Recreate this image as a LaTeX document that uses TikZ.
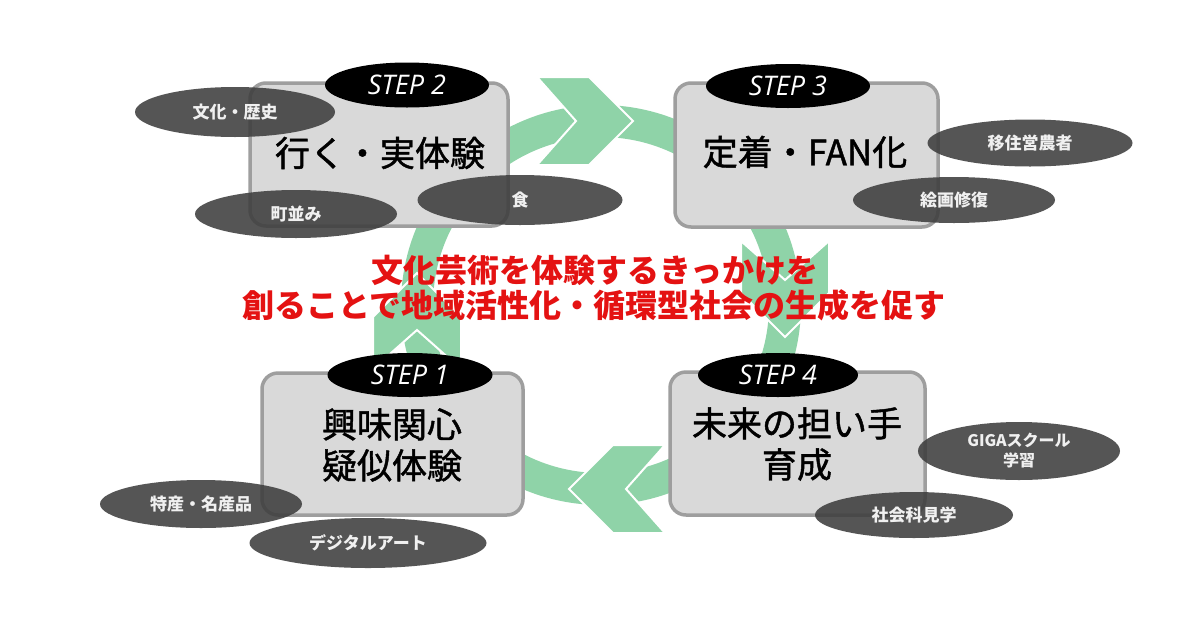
\documentclass[tikz,border=0pt]{standalone}
\usepackage{fontspec}
\setmainfont{Open Sans}
\newfontfamily\jp{Noto Sans CJK JP}
\newfontfamily\jpm[FakeBold=1.3]{Noto Sans CJK JP}
\usetikzlibrary{shapes.geometric}
\definecolor{ringgreen}{RGB}{143,211,168}
\definecolor{boxfill}{RGB}{217,217,217}
\definecolor{boxline}{RGB}{158,158,158}
\definecolor{pill}{RGB}{62,62,62}
\definecolor{redtext}{RGB}{228,18,18}
\tikzset{
  chev/.style={fill=ringgreen, draw=white, line width=2pt, line join=miter},
  stepbox/.style={draw=boxline, fill=boxfill, line width=3.5pt, rounded corners=16pt, inner sep=0pt},
  steplabel/.style={ellipse, fill=black, inner sep=0pt, text=white, font=\itshape\fontsize{27}{29}\selectfont},
  maintext/.style={align=center, text=black, font=\jpm\fontsize{35}{41}\selectfont},
  pillnode/.style={ellipse, fill=pill, fill opacity=0.88, text opacity=1, inner sep=0pt, text=white!94!black, align=center, font=\jp\bfseries\fontsize{17}{21}\selectfont},
  redline/.style={text=redtext, font=\jp\bfseries\fontsize{32}{36}\selectfont}
}
\begin{document}
\begin{tikzpicture}[x=1pt,y=-1pt]
\useasboundingbox (0,0) rectangle (1200,619);
\fill[white] (0,0) rectangle (1200,619);
% green cycle ring
\draw[ringgreen, line width=32pt] (601,305) circle (184pt);
\foreach \a in {0,-90,-180,-270}
  \filldraw[chev, rotate around={\a:(601,305)}] (537,77) -- (589,77) -- (633,121) -- (589,165) -- (537,165) -- (576,121) -- cycle;
% step boxes
\node[stepbox, minimum width=258pt, minimum height=143pt] (box2) at (379,154.5) {};
\node[stepbox, minimum width=263pt, minimum height=144pt] (box3) at (806.5,155) {};
\node[stepbox, minimum width=261pt, minimum height=142pt] (box1) at (392.5,444) {};
\node[stepbox, minimum width=255pt, minimum height=143pt] (box4) at (797.5,443.5) {};
% step labels
\node[steplabel, minimum width=164pt, minimum height=45pt] (lab2) at (407,85) {STEP 2};
\node[steplabel, minimum width=164pt, minimum height=44pt] (lab3) at (788,86) {STEP 3};
\node[steplabel, minimum width=165pt, minimum height=44pt] (lab1) at (410,375) {STEP 1};
\node[steplabel, minimum width=160pt, minimum height=44pt] (lab4) at (778,375) {STEP 4};
% main texts
\node[maintext] (t2) at (380,153) {行く・実体験};
\node[maintext] (t3) at (805,152) {定着・FAN化};
\node[maintext] (t1) at (392,445) {興味関心\\疑似体験};
\node[maintext] (t4) at (797,444) {未来の担い手\\育成};
% item pills
\node[pillnode, minimum width=200pt, minimum height=50pt] (p21) at (235,112) {文化・歴史};
\node[pillnode, minimum width=202pt, minimum height=48pt] (p22) at (296,214) {町並み};
\node[pillnode, minimum width=205pt, minimum height=50pt] (p23) at (520,200) {食};
\node[pillnode, minimum width=205pt, minimum height=47pt] (p31) at (1030,143) {移住営農者};
\node[pillnode, minimum width=202pt, minimum height=46pt] (p32) at (954,200) {絵画修復};
\node[pillnode, minimum width=202pt, minimum height=48pt] (p11) at (201,504) {特産・名産品};
\node[pillnode, minimum width=237pt, minimum height=50pt] (p12) at (368,543) {デジタルアート};
\node[pillnode, minimum width=202pt, minimum height=58pt, font=\jp\bfseries\fontsize{16}{20}\selectfont] (p41) at (1019,451) {GIGAスクール\\学習};
\node[pillnode, minimum width=198pt, minimum height=46pt] (p42) at (914,515) {社会科見学};
% centre message
\node[redline] (m1) at (595,270) {文化芸術を体験するきっかけを};
\node[redline] (m2) at (594,305) {創ることで地域活性化・循環型社会の生成を促す};
\end{tikzpicture}
\end{document}
